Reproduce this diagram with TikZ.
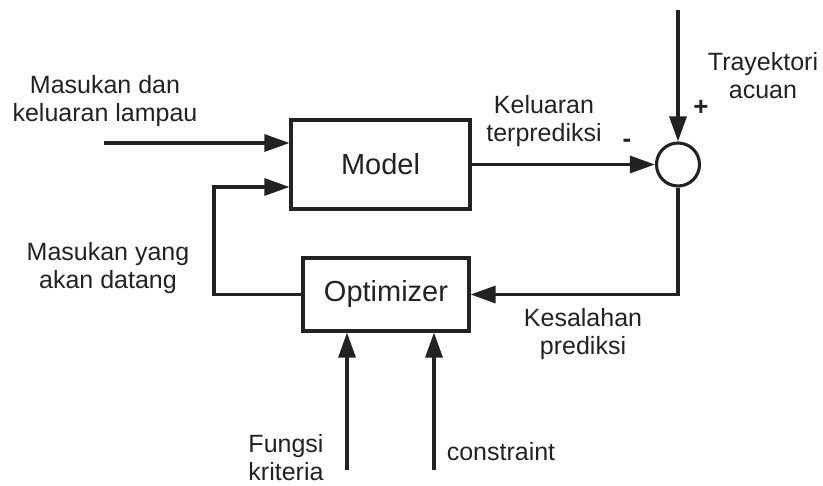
\documentclass[tikz,border=0pt]{standalone}
\usepackage{fontspec}
\setmainfont{Liberation Sans}
\usetikzlibrary{arrows.meta}
\definecolor{ink}{HTML}{222222}
\begin{document}
\begin{tikzpicture}[x=1pt,y=-1pt,
  line width=3.1pt, draw=ink,
  box/.style={draw=ink, rectangle, inner sep=0pt, line width=3.1pt, font=\fontsize{29}{34}\selectfont, text=ink},
  lbl/.style={font=\fontsize{25}{28}\selectfont, align=center, text=ink, inner sep=0pt},
  sgn/.style={font=\fontsize{26}{30}\selectfont\bfseries, text=ink, inner sep=0pt},
  arr/.style={-{Triangle[length=25pt,width=17pt]}}]
\useasboundingbox (0,0) rectangle (823,486);
% blocks
\node[box, minimum width=179pt, minimum height=89pt] (model) at (380.5,164.5) {Model};
\node[box, minimum width=166pt, minimum height=73pt] (opt) at (386,294.5) {Optimizer};
\node[draw=ink, circle, line width=3.1pt, minimum size=43pt, inner sep=0pt] (sum) at (678,164.5) {};
% coordinates
\coordinate (in1) at (104,143);
\coordinate (fb) at (214,187);
\coordinate (top) at (678,10);
\coordinate (fk) at (347,470);
\coordinate (cs) at (434,470);
% connectors
\draw[arr] (in1) -- (in1 -| model.west);
\draw[arr] (opt.west) -| (fb) -- (fb -| model.west);
\draw[arr] (model.east) -- (sum.west);
\draw[arr] (top) -- (sum.north);
\draw[arr] (sum.south) |- (opt.east);
\draw[arr] (fk) -- (fk |- opt.south);
\draw[arr] (cs) -- (cs |- opt.south);
% labels
\node[lbl] (l1) at (105,101) {Masukan dan\\keluaran lampau};
\node[lbl] (l2) at (544,121) {Keluaran\\terprediksi};
\node[sgn] (minus) at (627,143) {-};
\node[sgn] (plus) at (701,108) {+};
\node[lbl] (l3) at (763,76) {Trayektori\\acuan};
\node[lbl] (l4) at (108,268) {Masukan yang\\akan datang};
\node[lbl] (l5) at (583,334) {Kesalahan\\prediksi};
\node[lbl] (l6) at (286,458) {Fungsi\\kriteria};
\node[lbl] (l7) at (501,452) {constraint};
\end{tikzpicture}
\end{document}
